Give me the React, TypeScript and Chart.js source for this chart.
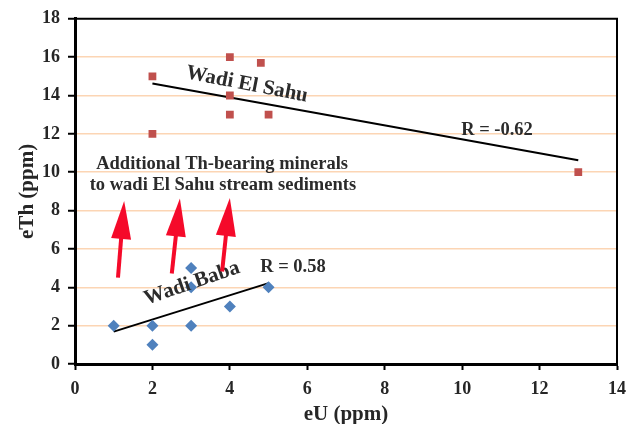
import React, { useEffect, useRef } from "react";
import { Chart, registerables } from "chart.js";

Chart.register(...registerables);

const sahuU = [2, 2, 4, 4, 4, 4.8, 5, 13];
const sahuTh = [15, 12, 16, 14, 13, 15.7, 13, 10];
const babaU = [1, 2, 2, 3, 3, 3, 4, 5];
const babaTh = [2, 2, 1, 5, 4, 2, 3, 4];
const xTicks = [0, 2, 4, 6, 8, 10, 12, 14];
const yTicks = [0, 2, 4, 6, 8, 10, 12, 14, 16, 18];

const FONT = "'Liberation Serif', 'Times New Roman', serif";

function fit(xs: number[], ys: number[]) {
  const n = xs.length;
  const mx = xs.reduce((a, b) => a + b, 0) / n;
  const my = ys.reduce((a, b) => a + b, 0) / n;
  let sxy = 0, sxx = 0;
  for (let i = 0; i < n; i++) {
    sxy += (xs[i] - mx) * (ys[i] - my);
    sxx += (xs[i] - mx) ** 2;
  }
  const m = sxy / sxx;
  const b = my - m * mx;
  const x0 = Math.min(...xs), x1 = Math.max(...xs);
  return [{ x: x0, y: m * x0 + b }, { x: x1, y: m * x1 + b }];
}

const annot = {
  id: "annot",
  afterDraw(chart: any) {
    const { ctx, chartArea: ca, scales } = chart;
    const X = (v: number) => scales.x.getPixelForValue(v);
    const Y = (v: number) => scales.y.getPixelForValue(v);
    ctx.save();
    // top and right frame
    ctx.strokeStyle = "#000";
    ctx.lineWidth = 2;
    ctx.beginPath();
    ctx.moveTo(ca.left, ca.top);
    ctx.lineTo(ca.right, ca.top);
    ctx.lineTo(ca.right, ca.bottom);
    ctx.stroke();

    const text = (s: string, x: number, y: number, size: number, angle = 0) => {
      ctx.save();
      ctx.translate(x, y);
      ctx.rotate((angle * Math.PI) / 180);
      ctx.font = `bold ${size}px ${FONT}`;
      ctx.fillStyle = "#2b2b2b";
      ctx.textAlign = "center";
      ctx.textBaseline = "middle";
      ctx.fillText(s, 0, 0);
      ctx.restore();
    };
    text("Wadi El Sahu", X(4.44), Y(14.57), 21, 11);
    text("R = -0.62", X(10.9), Y(12.19), 18.5);
    text("Additional Th-bearing minerals", X(3.8), Y(10.43), 18.5);
    text("to wadi El Sahu stream sediments", X(3.82), Y(9.34), 18.5);
    text("R = 0.58", X(5.63), Y(5.03), 18.5);
    text("Wadi Baba", X(3.02), Y(4.2), 21, -19);

    // arrows
    const arrows = [
      [1.11, 4.5, 1.27, 8.5],
      [2.5, 4.72, 2.71, 8.63],
      [3.8, 4.82, 4.0, 8.65],
    ];
    ctx.fillStyle = "#f50a2a";
    ctx.strokeStyle = "#f50a2a";
    for (const [ax, ay, bx, by] of arrows) {
      const x0 = X(ax), y0 = Y(ay), x1 = X(bx), y1 = Y(by);
      const dx = x1 - x0, dy = y1 - y0;
      const len = Math.hypot(dx, dy);
      const ux = dx / len, uy = dy / len;
      const headL = 38, headW = 10;
      const hx = x1 - ux * headL, hy = y1 - uy * headL;
      ctx.lineWidth = 4;
      ctx.beginPath();
      ctx.moveTo(x0, y0);
      ctx.lineTo(hx + ux * 2, hy + uy * 2);
      ctx.stroke();
      ctx.beginPath();
      ctx.moveTo(x1, y1);
      ctx.lineTo(hx - uy * headW, hy + ux * headW);
      ctx.lineTo(hx + uy * headW, hy - ux * headW);
      ctx.closePath();
      ctx.fill();
    }
    ctx.restore();
  },
};

export default function App() {
  const ref = useRef<HTMLCanvasElement>(null);
  useEffect(() => {
    document.body.style.margin = "0";
    const chart = new Chart(ref.current!, {
      type: "scatter",
      data: {
        datasets: [
          {
            label: "Wadi El Sahu",
            data: sahuU.map((x, i) => ({ x, y: sahuTh[i] })),
            pointStyle: "rect",
            pointRadius: 5.5,
            backgroundColor: "#c0504d",
            borderColor: "#c0504d",
            borderWidth: 0,
          },
          {
            label: "Wadi Baba",
            data: babaU.map((x, i) => ({ x, y: babaTh[i] })),
            pointStyle: "rectRot",
            pointRadius: 6,
            backgroundColor: "#4f81bd",
            borderColor: "#4f81bd",
            borderWidth: 0,
          },
          {
            label: "Sahu trend",
            data: fit(sahuU, sahuTh),
            showLine: true,
            pointRadius: 0,
            borderColor: "#000",
            borderWidth: 2,
          },
          {
            label: "Baba trend",
            data: fit(babaU, babaTh),
            showLine: true,
            pointRadius: 0,
            borderColor: "#000",
            borderWidth: 2,
          },
        ],
      },
      options: {
        animation: false,
        responsive: false,
        layout: { padding: { top: 17, right: 20, left: 0, bottom: 0 } },
        plugins: { legend: { display: false }, tooltip: { enabled: false } },
        scales: {
          x: {
            type: "linear",
            min: 0,
            max: 14,
            afterBuildTicks: (s: any) => { s.ticks = xTicks.map((v) => ({ value: v })); },
            afterFit: (s: any) => { s.height = 60; },
            border: { color: "#000", width: 3 },
            grid: { drawOnChartArea: false, drawTicks: true, tickLength: 6, tickColor: "#000", tickWidth: 2 },
            ticks: { color: "#262626", font: { family: FONT, size: 18, weight: "bold" }, padding: 9 },
            title: {
              display: true,
              text: "eU (ppm)",
              color: "#262626",
              font: { family: FONT, size: 21, weight: "bold", lineHeight: 1 },
              padding: { top: 0, bottom: -1 },
            },
          },
          y: {
            type: "linear",
            min: 0,
            max: 18,
            afterBuildTicks: (s: any) => { s.ticks = yTicks.map((v) => ({ value: v })); },
            afterFit: (s: any) => { s.width = 75; },
            border: { color: "#000", width: 3 },
            grid: {
              drawOnChartArea: true,
              color: (c: any) => (c.tick && (c.tick.value === 0 || c.tick.value === 18) ? "rgba(0,0,0,0)" : "#fcd5b4"),
              lineWidth: 1.5,
              drawTicks: true,
              tickLength: 7,
              tickColor: "#000",
              tickWidth: 2,
            },
            ticks: { color: "#262626", font: { family: FONT, size: 18, weight: "bold" }, padding: 8 },
            title: {
              display: true,
              text: "eTh (ppm)",
              color: "#262626",
              font: { family: FONT, size: 21, weight: "bold", lineHeight: 1 },
              padding: { top: 17, bottom: 0 },
            },
          },
        },
      },
      plugins: [annot],
    });
    return () => chart.destroy();
  }, []);
  return <canvas ref={ref} width={637} height={424} style={{ display: "block" }} />;
}
